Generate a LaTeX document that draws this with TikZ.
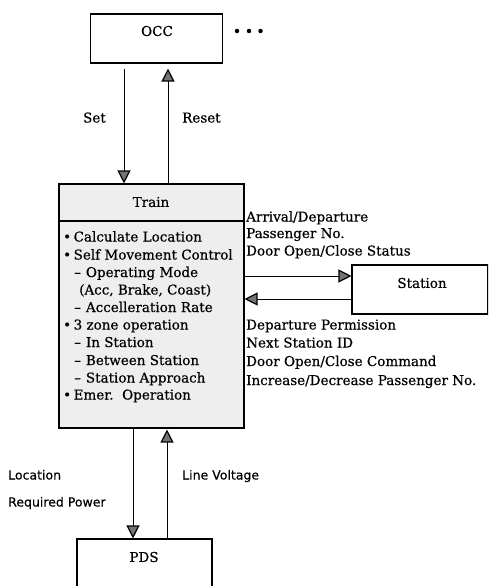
\documentclass[tikz,border=0pt]{standalone}
\usepackage{fontspec}
\setmainfont{DejaVu Serif}[BoldFont=DejaVu Serif,BoldFeatures={FakeBold=0.5}]
\newfontfamily\sansf{DejaVu Sans}[BoldFont=DejaVu Sans,BoldFeatures={FakeBold=0.4}]
\usetikzlibrary{arrows.meta}
\begin{document}
\begin{tikzpicture}[x=1pt,y=-1pt,
  box/.style={draw=black,line width=1.1pt,inner sep=0pt},
  txt/.style={inner sep=0pt,font=\bfseries\fontsize{13.5pt}{16pt}\selectfont},
  stxt/.style={inner sep=0pt,font=\sansf\bfseries\fontsize{12.5pt}{16pt}\selectfont},
  arr/.style={line width=1pt,-{Triangle[width=13pt,length=13pt,line width=1.2pt,fill=black!55]}},
  blt/.style={circle,fill=black,inner sep=0pt,minimum size=4.5pt}]
\clip (0,0) rectangle (488,586);
\fill[white] (0,0) rectangle (488,586);
% boxes
\node[box,minimum width=132pt,minimum height=49pt] (OCC) at (156.5,38.5) {};
\node[box,fill=gray!13,minimum width=185pt,minimum height=244pt] (Train) at (151.5,306) {};
\node[box,minimum width=136pt,minimum height=49pt] (Station) at (420,289.5) {};
\node[box,minimum width=135pt,minimum height=60pt] (PDS) at (144.5,569) {};
\draw[line width=1.1pt] (Train.west |- 0,221) -- (Train.east |- 0,221);
% box titles
\node[txt] (occt) at (157,31) {OCC};
\node[txt] (traint) at (151,202) {Train};
\node[txt] (stationt) at (422,283) {Station};
\node[txt] (pdst) at (144,557) {PDS};
% dots
\node[blt] (d1) at (237,31) {};
\node[blt] (d2) at (249,31) {};
\node[blt] (d3) at (260.5,31) {};
% train body text
\node[txt,anchor=base west] (l1) at (63,241.5) {\textbullet\hspace{2.5pt}Calculate Location};
\node[txt,anchor=base west] (l2) at (63,259.5) {\textbullet\hspace{2.5pt}Self Movement Control};
\node[txt,anchor=base west] (l3) at (74,277) {–\hspace{5pt}Operating Mode};
\node[txt,anchor=base west] (l4) at (79,294.5) {(Acc, Brake, Coast)};
\node[txt,anchor=base west] (l5) at (74,312) {–\hspace{5pt}Accelleration Rate};
\node[txt,anchor=base west] (l6) at (63,329.5) {\textbullet\hspace{2.5pt}3 zone operation};
\node[txt,anchor=base west] (l7) at (74,347) {–\hspace{5pt}In Station};
\node[txt,anchor=base west] (l8) at (74,365) {–\hspace{5pt}Between Station};
\node[txt,anchor=base west] (l9) at (74,382.5) {–\hspace{5pt}Station Approach};
\node[txt,anchor=base west] (l10) at (63,399.5) {\textbullet\hspace{2.5pt}Emer.\ \ Operation};
% right labels
\node[txt,anchor=base west] (r1) at (246,221.5) {Arrival/Departure};
\node[txt,anchor=base west] (r2) at (246,238) {Passenger No.};
\node[txt,anchor=base west] (r3) at (246,255.5) {Door Open/Close Status};
\node[txt,anchor=base west] (r4) at (246,329.5) {Departure Permission};
\node[txt,anchor=base west] (r5) at (246,347.5) {Next Station ID};
\node[txt,anchor=base west] (r6) at (246,366) {Door Open/Close Command};
\node[txt,anchor=base west] (r7) at (246,385) {Increase/Decrease Passenger No.};
% arrow labels
\node[txt,anchor=base east] (set) at (106,122.5) {Set};
\node[txt,anchor=base west] (reset) at (182,122.5) {Reset};
\node[stxt,anchor=base west] (loc) at (8,479.5) {Location};
\node[stxt,anchor=base west] (reqp) at (8,506.5) {Required Power};
\node[stxt,anchor=base west] (linev) at (182,479.5) {Line Voltage};
% connectors
\draw[arr] (OCC.south -| 124,0) ++(0,5) -- (Train.north -| 124,0);
\draw[arr] (Train.north -| 168,0) -- ([yshift=-5pt]OCC.south -| 168,0);
\draw[arr] (Train.east |- 0,276) -- (Station.west |- 0,276);
\draw[arr] (Station.west |- 0,299) -- (Train.east |- 0,299);
\draw[arr] (Train.south -| 133,0) -- (PDS.north -| 133,0);
\draw[arr] (PDS.north -| 167,0) -- ([yshift=-1pt]Train.south -| 167,0);
\end{tikzpicture}
\end{document}
